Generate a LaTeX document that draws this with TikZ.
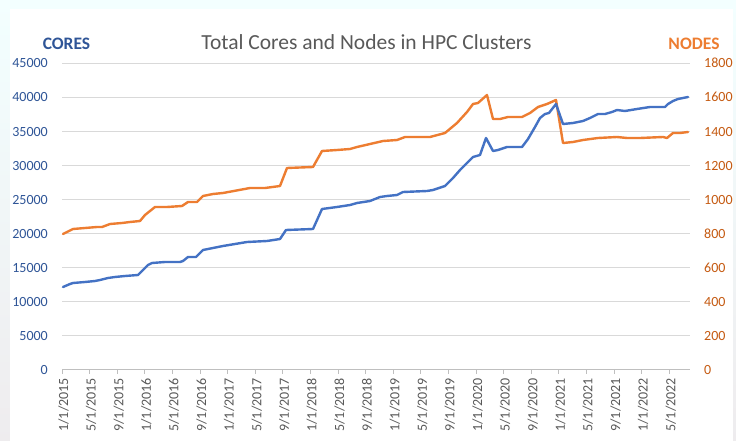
\documentclass[tikz,border=0pt]{standalone}
\usepackage{fontspec}
\setmainfont{Carlito}
\definecolor{coreblue}{HTML}{4472C4}
\definecolor{nodeorange}{HTML}{ED7D31}
\definecolor{leftlab}{HTML}{2F5597}
\definecolor{rightlab}{HTML}{C55A11}
\definecolor{gridgray}{HTML}{D9D9D9}
\definecolor{axisgray}{HTML}{BFBFBF}
\definecolor{titlegray}{HTML}{595959}
\tikzset{
  gridline/.style={draw=gridgray, line width=0.9pt},
  series/.style={line width=2.4pt, line join=round, line cap=round},
  ticklab/.style={font=\fontsize{14}{16}\selectfont, inner sep=0pt},
  datelab/.style={font=\fontsize{14}{16}\selectfont, text=titlegray, inner sep=0pt, rotate=90, anchor=east},
  axtitle/.style={font=\fontsize{17.5}{20}\selectfont\bfseries, inner sep=0pt, anchor=base},
}
\begin{document}
\begin{tikzpicture}[x=1pt,y=-1pt]
% backdrop and white chart area
\useasboundingbox (0,0) rectangle (736,441);
\shade[top color=white!40!cyan!8, bottom color=magenta!6!gray!14] (0,0) rectangle (736,441);
\fill[white] (10,9) rectangle (733,441);

% horizontal grid with left (cores) and right (nodes) scales
\foreach \k in {0,...,9} {
  \edef\cv{\the\numexpr\k*5000\relax}
  \edef\nv{\the\numexpr\k*200\relax}
  \pgfmathsetmacro{\yy}{369-\k*34}
  \ifnum\k>0 \draw[gridline] (62,\yy) -- (690,\yy); \fi
  \node[ticklab, text=leftlab, anchor=base east] (yl\k) at (48,\yy+5) {\cv};
  \node[ticklab, text=rightlab, anchor=base west] (yr\k) at (704,\yy+5) {\nv};
}
\draw[axisgray, line width=0.9pt] (62,369) -- (690,369);

% date axis: one tick every four months
\foreach [count=\i from 0] \d in {1/1/2015,5/1/2015,9/1/2015,1/1/2016,5/1/2016,9/1/2016,1/1/2017,5/1/2017,9/1/2017,1/1/2018,5/1/2018,9/1/2018,1/1/2019,5/1/2019,9/1/2019,1/1/2020,5/1/2020,9/1/2020,1/1/2021,5/1/2021,9/1/2021,1/1/2022,5/1/2022} {
  \pgfmathsetmacro{\xx}{62+\i*27.6}
  \draw[axisgray, line width=0.9pt] (\xx,369) -- (\xx,374);
  \node[datelab] (d\i) at (\xx+1.5,378) {\d};
}

% titles
\node[font=\fontsize{21.5}{24}\selectfont, text=titlegray, anchor=base, inner sep=0pt] (title) at (366.5,50) {Total Cores and Nodes in HPC Clusters};
\node[axtitle, text=leftlab] (cores) at (66.5,50) {CORES};
\node[axtitle, text=nodeorange] (nodes) at (694,50) {NODES};

% nodes series (right scale)
\draw[series, nodeorange] plot coordinates {
(63,234) (73,229) (85,228) (97,227) (102,227) (110,224) (122,223) (130,222) (140,221)
(145,215) (155,207) (167,207) (182,206) (188,202) (197,202) (203,196) (213,194) (223,193)
(250,188) (265,188) (280,186) (287,168) (313,167) (322,151) (337,150) (350,149) (357,147)
(370,144) (383,141) (397,140) (405,137) (430,137) (445,133) (457,123) (467,112) (473,104)
(478,103) (487,95) (493,119) (500,119) (508,117) (522,117) (530,113) (538,107) (547,104)
(556,100) (563,143) (573,142) (583,140) (598,138) (617,137) (627,138) (640,138) (663,137)
(667,138) (673,133) (680,133) (688,132)};

% cores series (left scale)
\draw[series, coreblue] plot coordinates {
(63,287) (70,284) (73,283) (85,282) (95,281) (100,280) (108,278) (115,277) (125,276)
(138,275) (142,271) (148,265) (152,263) (165,262) (180,262) (183,261) (188,257) (196,257)
(203,250) (223,246) (247,242) (267,241) (280,239) (286,230) (313,229) (322,209) (337,207)
(350,205) (357,203) (370,201) (380,197) (387,196) (397,195) (403,192) (427,191) (433,190)
(445,186) (453,178) (460,170) (467,163) (473,157) (480,155) (486,138) (493,151) (498,150)
(507,147) (522,147) (528,139) (535,127) (540,118) (545,114) (549,113) (556,104) (563,124)
(573,123) (583,121) (590,118) (598,114) (605,114) (612,112) (617,110) (625,111) (637,109)
(650,107) (665,107) (668,104) (673,101) (678,99) (688,97)};
\end{tikzpicture}
\end{document}
